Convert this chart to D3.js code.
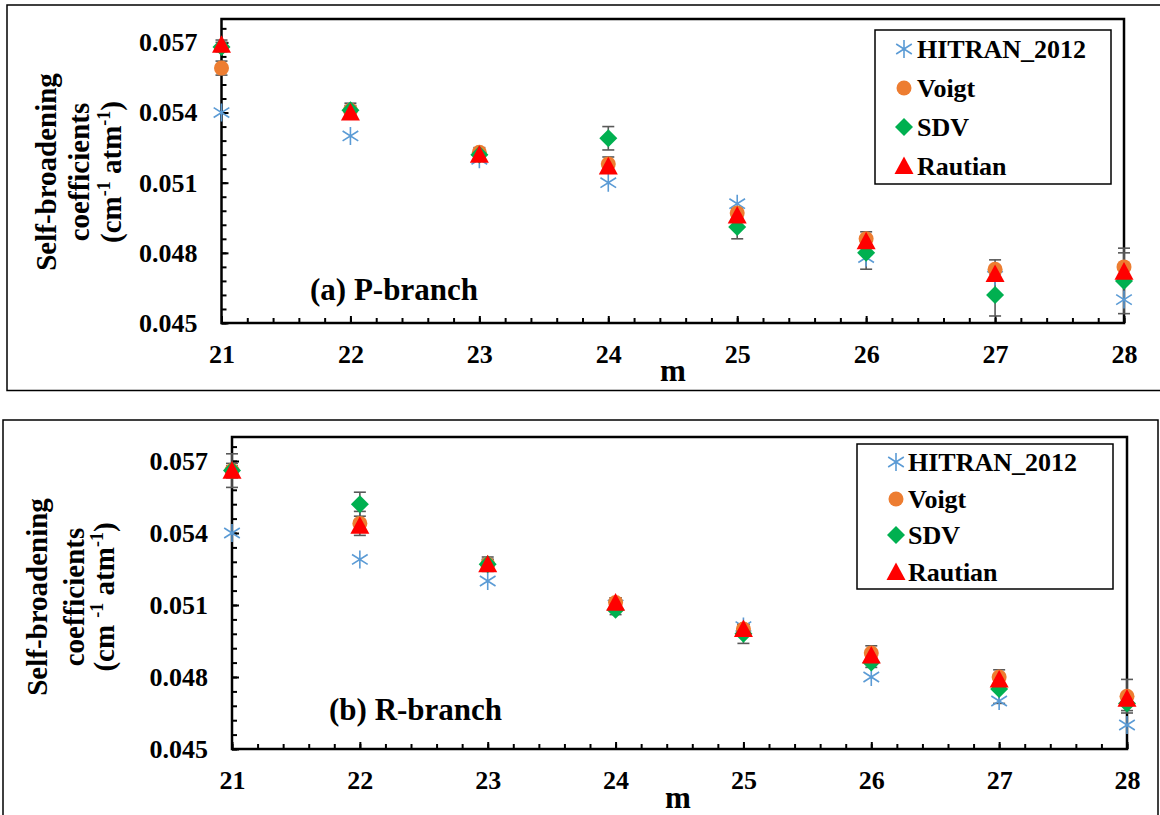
<!DOCTYPE html>
<html>
<head>
<meta charset="utf-8">
<script src="https://cdn.jsdelivr.net/npm/d3@7"></script>
<style>
body { margin: 0; background: #fff; }
svg text { font-family: "Liberation Serif", "Times New Roman", serif; font-weight: bold; fill: #000; }
</style>
</head>
<body>
<div id="chart"></div>
<script>
var mValues = [21, 22, 23, 24, 25, 26, 27, 28];
var yTickValues = [0.045, 0.048, 0.051, 0.054, 0.057];
var seriesNames = ["HITRAN_2012", "Voigt", "SDV", "Rautian"];

// (a) P-branch
var pHitran = [0.0540, 0.0530, 0.0520, 0.0510, 0.0501, 0.0478, 0.0470, 0.0460];
var pVoigt = [0.0559, 0.0541, 0.0523, 0.0518, 0.0497, 0.0486, 0.0473, 0.0474];
var pSDV = [0.0568, 0.0541, 0.0522, 0.0529, 0.0491, 0.0480, 0.0462, 0.0468];
var pRautian = [0.0569, 0.0540, 0.0522, 0.0517, 0.0496, 0.0485, 0.0471, 0.0472];
var pVoigtErr = [0.0003, 0.0003, 0.0002, 0.0003, 0.0002, 0.0003, 0.0004, 0.0006];
var pSDVErr = [0.0002, 0.0002, 0.0002, 0.0005, 0.0005, 0.0007, 0.0009, 0.0014];
var pRautianErr = [0.0002, 0.0002, 0.0002, 0.0002, 0.0002, 0.0002, 0.0002, 0.0003];

// (b) R-branch
var rHitran = [0.0540, 0.0529, 0.0520, 0.0510, 0.0501, 0.0480, 0.0470, 0.0460];
var rVoigt = [0.0566, 0.0544, 0.0527, 0.0511, 0.0500, 0.0490, 0.0480, 0.0472];
var rSDV = [0.0566, 0.0552, 0.0527, 0.0508, 0.0498, 0.0486, 0.0475, 0.0469];
var rRautian = [0.0566, 0.0543, 0.0527, 0.0511, 0.0500, 0.0489, 0.0479, 0.0471];
var rVoigtErr = [0.0007, 0.0005, 0.0003, 0.0002, 0.0002, 0.0003, 0.0003, 0.0007];
var rSDVErr = [0.0003, 0.0005, 0.0002, 0.0002, 0.0004, 0.0002, 0.0006, 0.0003];
var rRautianErr = [0.0002, 0.0002, 0.0002, 0.0002, 0.0002, 0.0002, 0.0002, 0.0002];

var colors = ["#5B9BD5", "#ED7D31", "#00B050", "#FF0000"];

// custom marker shapes, size = half width
var starType = { draw: function (c, r) {
    c.moveTo(0, -r); c.lineTo(0, r);
    c.moveTo(-r * 0.87, -r * 0.55); c.lineTo(r * 0.87, r * 0.55);
    c.moveTo(-r * 0.87, r * 0.55); c.lineTo(r * 0.87, -r * 0.55);
} };
var circleType = { draw: function (c, r) { c.moveTo(r, 0); c.arc(0, 0, r, 0, 2 * Math.PI); } };
var diamondType = { draw: function (c, r) {
    c.moveTo(0, -r); c.lineTo(r, 0); c.lineTo(0, r); c.lineTo(-r, 0); c.closePath();
} };
var triangleType = { draw: function (c, r) {
    c.moveTo(0, -r); c.lineTo(r, r * 0.85); c.lineTo(-r, r * 0.85); c.closePath();
} };
var markers = [
    { type: starType, size: 9, stroke: true },
    { type: circleType, size: 7.5 },
    { type: diamondType, size: 9 },
    { type: triangleType, size: 9.5 }
];

var svg = d3.select("#chart").append("svg")
    .attr("width", 1160)
    .attr("height", 815);

function markerPath(i) {
    return d3.symbol().type(markers[i].type).size(markers[i].size)();
}

function drawMarker(sel, i) {
    sel.attr("d", markerPath(i))
        .attr("fill", markers[i].stroke ? "none" : colors[i])
        .attr("stroke", markers[i].stroke ? colors[i] : "none")
        .attr("stroke-width", 1.6);
}

function drawPanel(p) {
    var g = svg.append("g");

    // outer frame
    g.append("rect")
        .attr("x", p.frame[0]).attr("y", p.frame[1])
        .attr("width", p.frame[2]).attr("height", p.frame[3])
        .attr("fill", "none").attr("stroke", "#000").attr("stroke-width", 1.5);

    var x = d3.scaleLinear().domain([21, 28]).range([p.left, p.right]);
    var y = d3.scaleLinear().domain([0.045, 0.058]).range([p.bottom, p.top]);

    // minor ticks
    var yMinor = d3.range(0, 22).map(function (i) { return +(0.045 + i * 0.0006).toFixed(4); });
    var xMinor = d3.range(0, 36).map(function (i) { return +(21 + i * 0.2).toFixed(1); });
    g.append("g").attr("class", "tick-minor")
        .attr("transform", "translate(" + p.left + ",0)")
        .call(d3.axisLeft(y).tickValues(yMinor).tickSize(-5).tickFormat(""));
    g.append("g").attr("class", "tick-minor")
        .attr("transform", "translate(0," + p.bottom + ")")
        .call(d3.axisBottom(x).tickValues(xMinor).tickSize(-5).tickFormat(""));

    // major ticks + labels
    g.append("g").attr("class", "y axis")
        .attr("transform", "translate(" + p.left + ",0)")
        .call(d3.axisLeft(y).tickValues(yTickValues).tickSize(-7).tickPadding(p.yPad)
            .tickFormat(d3.format(".3f")));
    g.append("g").attr("class", "x axis")
        .attr("transform", "translate(0," + p.bottom + ")")
        .call(d3.axisBottom(x).tickValues(mValues).tickSize(-7).tickPadding(p.xPad)
            .tickFormat(d3.format("d")));

    g.selectAll(".domain").remove();
    g.selectAll(".tick line").attr("stroke", "#000").attr("stroke-width", 2);
    g.selectAll(".tick text").style("font-size", "26px").style("font-family", null);

    // plot area box
    g.append("rect")
        .attr("x", p.left).attr("y", p.top)
        .attr("width", p.right - p.left).attr("height", p.bottom - p.top)
        .attr("fill", "none").attr("stroke", "#000").attr("stroke-width", 2.5);

    // error bars
    p.series.forEach(function (s, i) {
        if (!s.err) return;
        var eb = g.append("g").attr("stroke", "#595959").attr("stroke-width", 1.6);
        mValues.forEach(function (m, j) {
            var cx = x(m), y0 = y(s.values[j] - s.err[j]), y1 = y(s.values[j] + s.err[j]);
            eb.append("line").attr("x1", cx).attr("x2", cx).attr("y1", y0).attr("y2", y1);
            eb.append("line").attr("x1", cx - 6).attr("x2", cx + 6).attr("y1", y0).attr("y2", y0);
            eb.append("line").attr("x1", cx - 6).attr("x2", cx + 6).attr("y1", y1).attr("y2", y1);
        });
    });

    // markers
    p.series.forEach(function (s, i) {
        g.append("g").selectAll("path")
            .data(s.values)
            .enter().append("path")
            .attr("transform", function (d, j) { return "translate(" + x(mValues[j]) + "," + y(d) + ")"; })
            .call(drawMarker, i);
    });

    // legend
    var lg = g.append("g");
    lg.append("rect")
        .attr("x", p.legend.x).attr("y", p.legend.y)
        .attr("width", p.legend.w).attr("height", p.legend.h)
        .attr("fill", "#fff").attr("stroke", "#000").attr("stroke-width", 1.5);
    seriesNames.forEach(function (name, i) {
        var ry = p.legend.rows[i];
        lg.append("path")
            .attr("transform", "translate(" + p.legend.mx + "," + ry + ")")
            .call(drawMarker, i);
        lg.append("text")
            .attr("x", p.legend.tx).attr("y", ry + 9)
            .style("font-size", "26px")
            .text(name);
    });

    // panel label
    g.append("text")
        .attr("x", p.label.x).attr("y", p.label.y)
        .style("font-size", "31px")
        .text(p.label.text);

    // x title
    g.append("text")
        .attr("x", p.mLabel[0]).attr("y", p.mLabel[1])
        .attr("text-anchor", "middle")
        .style("font-size", "31px")
        .text("m");

    // y title
    var tg = g.append("g")
        .attr("transform", "translate(0," + p.yTitle.cy + ") rotate(-90)")
        .style("font-size", "29px")
        .attr("text-anchor", "middle");
    tg.append("text").attr("x", 0).attr("y", p.yTitle.xs[0]).text("Self-broadening");
    tg.append("text").attr("x", 0).attr("y", p.yTitle.xs[1]).text("coefficients");
    var t3 = tg.append("text").attr("x", 0).attr("y", p.yTitle.xs[2]);
    t3.append("tspan").text(p.yTitle.cm);
    t3.append("tspan").attr("dy", -11).style("font-size", "18px").text("-1");
    t3.append("tspan").attr("dy", 11).text(" atm");
    t3.append("tspan").attr("dy", -11).style("font-size", "18px").text("-1");
    t3.append("tspan").attr("dy", 11).text(")");
}

drawPanel({
    frame: [7, 5, 1170, 385.5],
    left: 221.5, right: 1124, top: 19, bottom: 323,
    yPad: 24, xPad: 22,
    series: [
        { values: pHitran },
        { values: pVoigt, err: pVoigtErr },
        { values: pSDV, err: pSDVErr },
        { values: pRautian, err: pRautianErr }
    ],
    legend: { x: 875, y: 30, w: 236, h: 154, mx: 904, tx: 917, rows: [49, 88, 127, 166] },
    label: { x: 310, y: 300, text: "(a) P-branch" },
    mLabel: [673, 381],
    yTitle: { cy: 172, xs: [56, 89, 121], cm: "(cm" }
});

drawPanel({
    frame: [3, 420, 1155, 420],
    left: 232, right: 1127, top: 437, bottom: 749,
    yPad: 24, xPad: 22,
    series: [
        { values: rHitran },
        { values: rVoigt, err: rVoigtErr },
        { values: rSDV, err: rSDVErr },
        { values: rRautian, err: rRautianErr }
    ],
    legend: { x: 857, y: 444, w: 256, h: 145, mx: 896, tx: 908, rows: [462, 499, 535, 572] },
    label: { x: 329, y: 720, text: "(b) R-branch" },
    mLabel: [678, 808],
    yTitle: { cy: 597, xs: [47, 84, 114], cm: "(cm " }
});
</script>
</body>
</html>
